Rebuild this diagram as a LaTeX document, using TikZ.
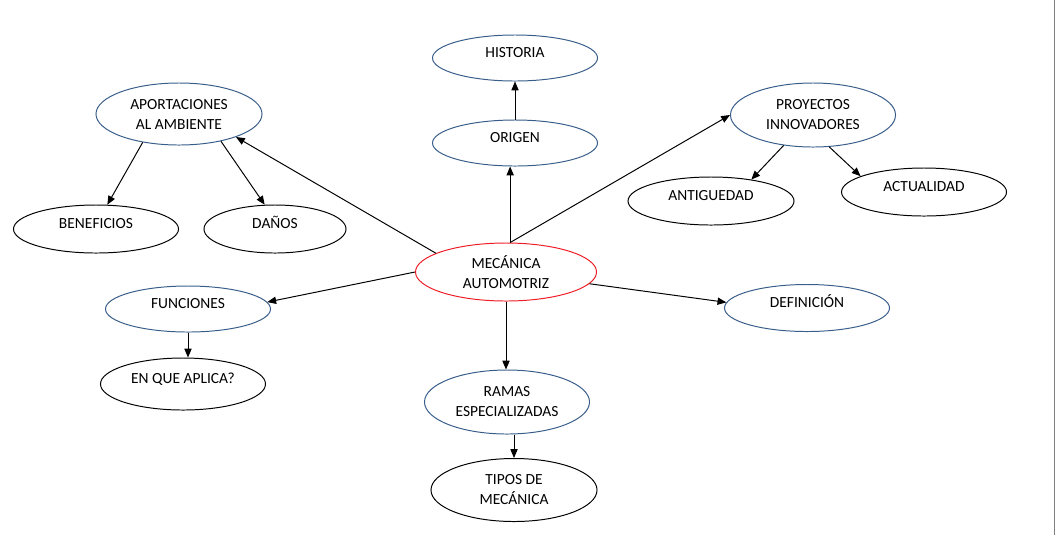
\documentclass[tikz,border=0pt]{standalone}
\usepackage{fontspec}
\setmainfont{Carlito}
\usetikzlibrary{arrows.meta,shapes.geometric}
\definecolor{shapeblue}{HTML}{385D8A}
\definecolor{hubred}{HTML}{EE1C25}

\begin{document}
\begin{tikzpicture}[
  x=0.025cm, y=-0.025cm,
  font=\fontsize{11}{14.2}\selectfont,
  topic/.style={draw, ellipse, align=center, inner sep=0pt, line width=0.7pt, minimum width=4.125cm, minimum height=1.15cm},
  bluetopic/.style={topic, draw=shapeblue},
  oneline/.style={text height=7pt, text depth=7.3pt},
  arr/.style={-{Triangle[length=2.2mm, width=1.8mm]}, line width=0.7pt}
]
\useasboundingbox (0,0) rectangle (1056,535);

\node[bluetopic, oneline] (historia) at (515,58) {HISTORIA};
\node[bluetopic, oneline] (origen) at (515,143) {ORIGEN};
\node[bluetopic, minimum width=4.15cm, minimum height=1.55cm] (aportes) at (179,114) {APORTACIONES\\AL AMBIENTE};
\node[topic, oneline, minimum height=1.2cm] (beneficios) at (96,229) {BENEFICIOS};
\node[topic, oneline, minimum width=3.55cm, minimum height=1.2cm] (danos) at (275,229) {DAÑOS};
\node[bluetopic, minimum height=1.6cm] (proyectos) at (813,115) {PROYECTOS\\INNOVADORES};
\node[topic, oneline, minimum width=4.15cm, minimum height=1.2cm] (antiguedad) at (711,201) {ANTIGUEDAD};
\node[topic, oneline, minimum height=1.2cm] (actualidad) at (924,192) {ACTUALIDAD};
\node[topic, draw=hubred, minimum width=4.525cm, minimum height=1.45cm] (mecanica) at (506,272) {MECÁNICA\\AUTOMOTRIZ};
\node[bluetopic, oneline] (funciones) at (188,309) {FUNCIONES};
\node[topic, oneline, minimum height=1.3cm] (aplica) at (183,384) {EN QUE APLICA?};
\node[bluetopic, oneline, minimum height=1.175cm] (definicion) at (807,308) {DEFINICIÓN};
\node[bluetopic, minimum height=1.6cm] (ramas) at (507,402) {RAMAS\\ESPECIALIZADAS};
\node[topic, minimum width=4.15cm, minimum height=1.575cm] (tipos) at (514,490) {TIPOS DE\\MECÁNICA};

\draw[arr] (mecanica.82) -- (mecanica.82 |- origen.south);
\draw[arr] (origen) -- (historia);
\draw[arr] (mecanica.165) -- (aportes.-22);
\draw[arr] (mecanica.82) -- (proyectos.west);
\draw[arr] (aportes.218) -- (beneficios.65);
\draw[arr] (aportes.-33) -- (danos.113);
\draw[arr] (proyectos.226) -- (antiguedad.28);
\draw[arr] (proyectos.-63) -- (actualidad.166);
\draw[arr] (mecanica.west) -- (funciones.5);
\draw[arr] (funciones.south) -- (funciones.south |- aplica.north);
\draw[arr] (mecanica.-8) -- (definicion.176);
\draw[arr] (mecanica.south) -- (mecanica.south |- ramas.north);
\draw[arr] (tipos.north |- ramas.south) -- (tipos.north);

% page edge
\draw[gray, line width=0.7pt] (1054.5,0) -- (1054.5,535);
\end{tikzpicture}
\end{document}
